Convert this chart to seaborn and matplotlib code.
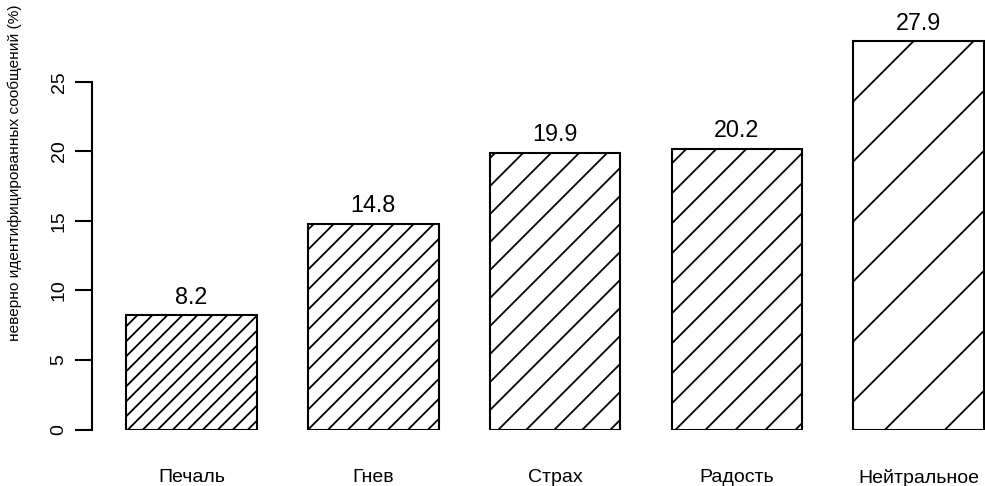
import numpy as np
import pandas as pd
import matplotlib
matplotlib.use("Agg")
import matplotlib.pyplot as plt
import seaborn as sns
from matplotlib.lines import Line2D

# Data
categories = ["Печаль", "Гнев", "Страх", "Радость", "Нейтральное"]
misidentified_pct = [8.2, 14.8, 19.9, 20.2, 27.9]
y_ticks = [0, 5, 10, 15, 20, 25]
y_label = "неверно идентифицированных сообщений (%)"

# Hatch style per bar: horizontal spacing of the diagonal lines and their offset (pixels)
hatch_step_px = [15, 20, 28, 30, 60]
hatch_phase_px = [1.6, 0, 8.6, 4, 31.7]

sns.set_theme(style="white")
plt.rcParams["font.family"] = ["Liberation Sans", "DejaVu Sans"]

W, H = 985, 486
fig = plt.figure(figsize=(W / 100, H / 100), dpi=100)
ax = fig.add_axes([92 / W, 56.5 / H, 893 / W, 429.5 / H])

df = pd.DataFrame({"emotion": categories, "pct": misidentified_pct})
sns.barplot(data=df, x="emotion", y="pct", color="white", saturation=1,
            edgecolor="black", linewidth=1.5, width=0.717, ax=ax)

ax.set_xlim(-0.548, 4.365)
ax.set_ylim(0, 30.88)
ax.set_xlabel("")

# Axis styling: only a left axis spanning the tick range
for side in ("top", "right", "bottom"):
    ax.spines[side].set_visible(False)
ax.spines["left"].set_bounds(0, 25)
ax.spines["left"].set_linewidth(1.5)
ax.spines["left"].set_color("black")

ax.set_yticks(y_ticks)
ax.set_yticklabels([str(t) for t in y_ticks])
ax.tick_params(axis="y", direction="out", length=12.2, width=1.5, color="black",
               labelsize=14, pad=11.5, left=True)
plt.setp(ax.get_yticklabels(), rotation=90, ha="center", va="center", color="black")
ax.tick_params(axis="x", length=0, pad=28.5, labelsize=14, labelcolor="black")

ax.set_ylabel(y_label, fontsize=12.4, color="black")
ax.yaxis.set_label_coords(-0.0862, 0.598)
ax.yaxis.label.set_va("center")

# Fit the axis title into the space left of the plot (about 338 px long)
fig.canvas.draw()
lab = ax.yaxis.label
ext = lab.get_window_extent(fig.canvas.get_renderer())
lab.set_fontsize(lab.get_fontsize() * 336.0 / ext.height)

# Value labels above bars
for i, v in enumerate(misidentified_pct):
    ax.annotate(f"{v:.1f}", xy=(i, v), xytext=(0, 8.4), textcoords="offset points",
                ha="center", va="baseline", fontsize=16.8, color="black")

# Diagonal hatching clipped to each bar
fig.canvas.draw()
to_data = ax.transData.inverted()
for patch, step, phase in zip(ax.patches, hatch_step_px, hatch_phase_px):
    bb = patch.get_window_extent()
    x0, y0, x1, y1 = bb.x0, bb.y0, bb.x1, bb.y1
    h = y1 - y0
    kmin = int(np.floor(-(h + phase) / step)) - 1
    kmax = int(np.ceil((x1 - x0) / step)) + 1
    for k in range(kmin, kmax + 1):
        xs = x0 + phase + k * step
        (a, b) = to_data.transform([(xs, y0), (xs + h, y1)])
        line = Line2D([a[0], b[0]], [a[1], b[1]], color="black", lw=1.3,
                      solid_capstyle="butt")
        ax.add_line(line)
        line.set_clip_path(patch)

ax.set_xlim(-0.548, 4.365)
ax.set_ylim(0, 30.88)

fig.savefig("out.png", dpi=100)
